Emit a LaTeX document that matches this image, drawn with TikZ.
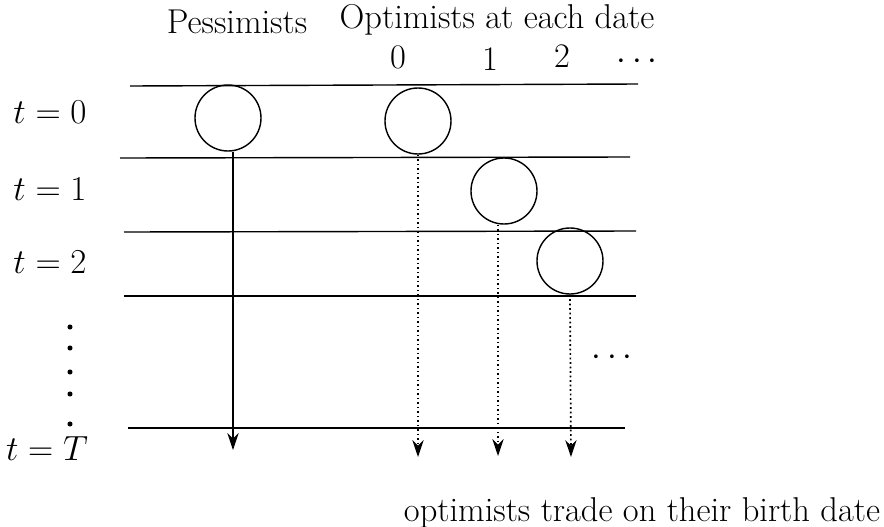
\documentclass[tikz,border=0pt]{standalone}
\usepackage{tikz}
\usetikzlibrary{arrows.meta}

\begin{document}
\begin{tikzpicture}[
  x=0.025cm, y=-0.025cm,
  every node/.style={font=\fontsize{24.5}{30}\selectfont, inner sep=1pt},
  agent/.style={draw, circle, line width=1pt, minimum size=66*0.025cm, inner sep=0pt},
  row/.style={line width=1pt},
  arr/.style={-{Stealth[length=12pt,width=8pt]}, line width=0.9pt},
  darr/.style={-{Stealth[length=12pt,width=8pt]}, line width=1.2pt, dotted},
]
\useasboundingbox (0,0) rectangle (884,527);

%% Column headings
\node (pes)   at (237,22) {Pessimists};
\node (opt)   at (497,20) {Optimists at each date};
\node (h0)    at (398,57) {0};
\node (h1)    at (490,59) {1};
\node (h2)    at (562,56) {2};
\node (hdots) at (637,62) {$\cdots$};

%% Date labels
\node (t0) at (50,112) {$t=0$};
\node (t1) at (50,189) {$t=1$};
\node (t2) at (50,262) {$t=2$};
\node (tT) at (47,449) {$t=T$};
\foreach \y in {327,348,372,394,424}{
  \fill (70,\y) circle (1.8pt);
}

%% Rows
\draw[row] (130,86)  -- (638,84);
\draw[row] (120,158) -- (630,157);
\draw[row] (124,232) -- (636,231);
\draw[row] (124,296) -- (636,296);
\draw[row] (128,428) -- (625,428);

%% Agents
\node[agent] (p)  at (228,118) {};
\node[agent] (o0) at (418,121) {};
\node[agent] (o1) at (504,191) {};
\node[agent] (o2) at (570,261) {};

\node (mdots) at (612,358) {$\cdots$};

%% Arrows down to T
\coordinate (pend)  at (233,450);
\coordinate (o0end) at (418,457);
\coordinate (o1end) at (498,456);
\coordinate (o2end) at (571,457);
\draw[arr]  (pend |- p.south) -- (pend);
\draw[darr] (o0.south) -- (o0end);
\draw[darr] (o1end |- o1.south) -- (o1end);
\draw[darr] (o2.south) -- (o2end);

\node (note) at (642,513) {optimists trade on their birth date};

\end{tikzpicture}
\end{document}
